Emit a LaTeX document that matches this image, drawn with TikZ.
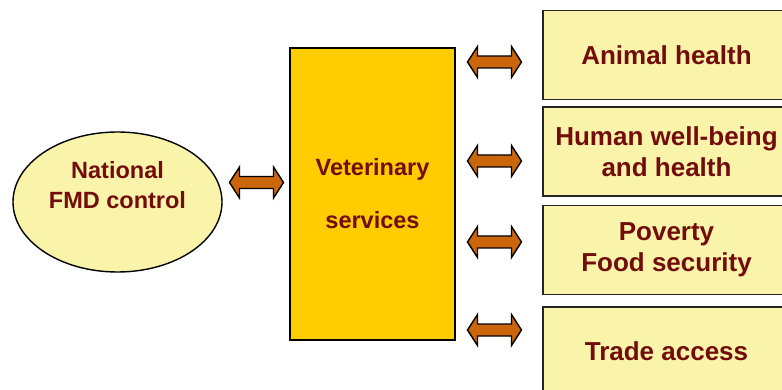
\documentclass[tikz,border=0pt]{standalone}
\usepackage{fontspec}
\setmainfont{Liberation Sans}
\usetikzlibrary{shapes.geometric}
\definecolor{paleyellow}{RGB}{250,244,170}
\definecolor{gold}{RGB}{255,204,0}
\definecolor{maroon}{RGB}{115,12,12}
\definecolor{rust}{RGB}{204,102,10}
\begin{document}
\begin{tikzpicture}[x=1pt,y=-1pt,
  txt/.style={text=maroon,font=\bfseries\fontsize{26}{31}\selectfont,align=center},
  midtxt/.style={text=maroon,font=\bfseries\fontsize{23.5}{30}\selectfont,align=center},
  outcome/.style={draw=black!85,line width=1.6pt,fill=paleyellow,minimum width=247pt,
    minimum height=89pt,inner sep=0pt,txt},
  linkarrow/.pic={
    \path[draw=black,line width=1.4pt,fill=rust,line join=miter]
      (-27,0) -- (-17,-15.5) -- (-17,-6) -- (17,-6) -- (17,-15.5) -- (27,0)
      -- (17,15.5) -- (17,6) -- (-17,6) -- (-17,15.5) -- cycle;
    \coordinate (-center) at (0,0);}]
  \clip (0,0) rectangle (782,390);
  \fill[white] (0,0) rectangle (782,390);

  % national programme
  \node[ellipse,draw=black,line width=1.4pt,fill=paleyellow,minimum width=209pt,
    minimum height=140pt,inner sep=0pt] (fmd) at (117.5,202) {};
  \node[midtxt] (fmdtxt) at ([yshift=17pt]fmd.center) {National\\FMD control};

  % central service
  \node[draw=black,line width=1.4pt,fill=gold,minimum width=165pt,minimum height=292pt,
    inner sep=0pt] (vet) at (372.5,194) {};
  \node[text=maroon,font=\bfseries\fontsize{23.5}{53}\selectfont,align=center]
    (vettxt) at (vet.center) {Veterinary\\services};

  % outcomes
  \node[outcome] (animal)  at (666.5,55)  {Animal health};
  \node[outcome] (human)   at (666.5,151.5) {Human well-being\\and health};
  \node[outcome] (poverty) at (666.5,250) {Poverty\\Food security};
  \node[outcome] (trade)   at (666.5,351.5) {Trade access};

  % two-way links
  \pic (a0) at (256.5,182.5) {linkarrow};
  \pic (a1) at (494.5,62) {linkarrow};
  \pic (a2) at (494.5,161) {linkarrow};
  \pic (a3) at (494.5,242) {linkarrow};
  \pic (a4) at (494.5,330) {linkarrow};
\end{tikzpicture}
\end{document}
